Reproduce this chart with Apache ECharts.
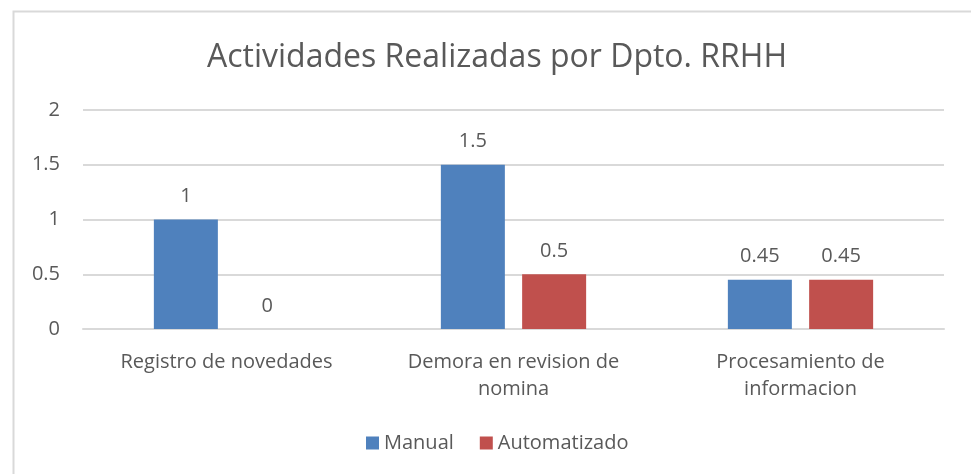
<!DOCTYPE html>
<html>
<head>
<meta charset="utf-8">
<script src="https://cdn.jsdelivr.net/npm/echarts@6/dist/echarts.min.js"></script>
<style>
html,body{margin:0;padding:0;background:#fff;}
#c{width:971px;height:474px;}
</style>
</head>
<body>
<div id="c"></div>
<script>
const categories = ['Registro de novedades', 'Demora en revision de\nnomina', 'Procesamiento de\ninformacion'];
const manual = [1, 1.5, 0.45];
const automatizado = [0, 0.5, 0.45];
const seriesNames = ['Manual', 'Automatizado'];
const titleText = 'Actividades Realizadas por Dpto. RRHH';

const FONT = 'Open Sans';
const TXT = '#595959';
const chart = echarts.init(document.getElementById('c'));
chart.setOption({
  backgroundColor: '#fff',
  animation: false,
  title: {
    text: titleText, left: 202, top: 37,
    textStyle: {fontFamily: FONT, fontSize: 32, fontWeight: 'normal', color: TXT}
  },
  graphic: [{
    type: 'rect', left: 11, top: 9,
    shape: {x: 0, y: 0, width: 1000, height: 500},
    style: {fill: 'none', stroke: '#d9d9d9', lineWidth: 2}, silent: true, z: -1
  }],
  legend: {
    bottom: 16, left: 361, itemWidth: 13, itemHeight: 13, itemGap: 26,
    icon: 'rect',
    textStyle: {fontFamily: FONT, fontSize: 20, color: TXT}
  },
  grid: {left: 83, right: 27, top: 110, bottom: 145, containLabel: false},
  xAxis: {
    type: 'category', data: categories,
    axisLine: {lineStyle: {color: '#d9d9d9', width: 2}},
    axisTick: {show: false},
    axisLabel: {fontFamily: FONT, fontSize: 20, color: TXT, margin: 20, lineHeight: 27, interval: 0}
  },
  yAxis: {
    type: 'value', min: 0, max: 2, interval: 0.5,
    axisLine: {show: false}, axisTick: {show: false},
    splitLine: {lineStyle: {color: '#d9d9d9', width: 2}},
    axisLabel: {fontFamily: FONT, fontSize: 20, color: TXT, margin: 23}
  },
  series: [
    {name: seriesNames[0], type: 'bar', data: manual, barWidth: 64, barGap: '27%',
     itemStyle: {color: '#4F81BD'},
     label: {show: true, position: 'top', distance: 13, fontFamily: FONT, fontSize: 20, color: TXT}},
    {name: seriesNames[1], type: 'bar', data: automatizado, barWidth: 64,
     itemStyle: {color: '#C0504D'},
     label: {show: true, position: 'top', distance: 13, fontFamily: FONT, fontSize: 20, color: TXT}}
  ]
});
</script>
</body>
</html>
